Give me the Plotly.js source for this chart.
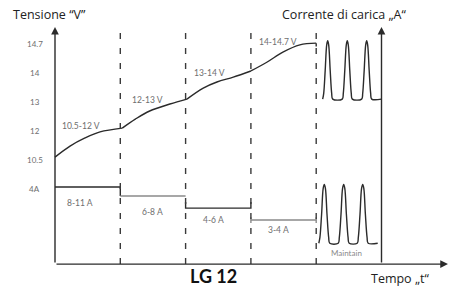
<!DOCTYPE html>
<html><head><meta charset="utf-8">
<script src="https://cdn.plot.ly/plotly-3.0.1.min.js"></script>
<style>html,body{margin:0;padding:0;background:#fff}#c{width:451px;height:289px}</style>
</head><body><div id="c"></div>
<script>
// Phase boundaries (time axis, schematic units)
const phaseBounds = [0, 1, 2, 3, 4, 5];
// Y-axis ticks (schematic levels) and labels
const tickLevels = [-1, 0, 1, 2, 3, 4];
const tickLabels = ['4A', '10.5', '12', '13', '14', '14.7'];

// Voltage curve, one segment per phase
const volt1X = [0, 0.23, 0.46, 0.69, 1.03];
const volt1Y = [0.10, 0.48, 0.76, 0.97, 1.10];
const volt2X = [1.03, 1.23, 1.45, 1.76, 2.02];
const volt2Y = [1.10, 1.41, 1.69, 1.93, 2.10];
const volt3X = [2.02, 2.27, 2.48, 2.73, 3.0];
const volt3Y = [2.10, 2.48, 2.69, 2.86, 3.07];
const volt4X = [3.0, 3.25, 3.49, 3.75, 4.0, 4.0];
const volt4Y = [3.07, 3.38, 3.72, 3.97, 4.03, 3.91];
const voltLabels = ['10.5-12 V', '12-13 V', '13-14 V', '14-14.7 V'];
const voltLabelX = [0.40, 1.41, 2.36, 3.41];
const voltLabelY = [1.17, 2.07, 3.01, 4.08];

// Charging current steps
const cur1X = [0, 1, 1];          const cur1Y = [-0.93, -0.93, -1.24];
const cur2X = [1, 2];             const cur2Y = [-1.24, -1.24];
const cur3X = [2, 2, 3, 3];       const cur3Y = [-1.45, -1.66, -1.66, -1.45];
const cur4X = [3, 3, null, 3, 4, null, 4, 4];
const cur4Y = [-1.97, -2.17, null, -2.07, -2.07, null, -1.97, -2.17];
const curLabels = ['8-11 A', '6-8 A', '4-6 A', '3-4 A'];
const curLabelX = [0.38, 1.49, 2.43, 3.42];
const curLabelY = [-1.48, -1.79, -2.07, -2.41];

// Maintain phase pulses (voltage)
const pulseVX = [4.099, 4.115, 4.138, 4.161, 4.176, 4.191, 4.214, 4.237, 4.253,
                 4.399, 4.415, 4.438, 4.461, 4.476, 4.491, 4.514, 4.537, 4.553,
                 4.696, 4.712, 4.735, 4.758, 4.773, 4.788, 4.811, 4.834, 4.850, 5.0];
const pulseVY = [2.10, 2.30, 3.10, 3.97, 4.11, 3.97, 3.10, 2.30, 2.10,
                 2.10, 2.30, 3.10, 3.97, 4.11, 3.97, 3.10, 2.30, 2.10,
                 2.10, 2.30, 3.10, 3.97, 4.11, 3.97, 3.10, 2.30, 2.10, 2.10];
// Maintain phase pulses (current)
const pulseIX = [4.040, 4.057, 4.083, 4.107, 4.124, 4.141, 4.165, 4.191, 4.208,
                 4.337, 4.354, 4.380, 4.404, 4.421, 4.438, 4.462, 4.488, 4.505,
                 4.628, 4.645, 4.671, 4.695, 4.712, 4.729, 4.753, 4.779, 4.796, 4.942];
const pulseIY = [-2.87, -2.67, -1.86, -0.98, -0.84, -0.98, -1.86, -2.67, -2.87,
                 -2.87, -2.67, -1.86, -0.98, -0.84, -0.98, -1.86, -2.67, -2.87,
                 -2.87, -2.67, -1.86, -0.98, -0.84, -0.98, -1.86, -2.67, -2.87, -2.87];

const axisBottom = -3.59, axisTop = 4.59, dashTop = 4.69, xTip = 6.018;
const dark = '#2b2b2b', gray = '#8a8a8a', labelCol = '#6e6e6e';

const line = (x, y, color, shape) => ({x, y, type: 'scatter', mode: 'lines',
  line: {color, width: 1.4, shape: shape || 'linear', smoothing: 1}, hoverinfo: 'skip'});

const data = [
  line(volt1X, volt1Y, dark, 'spline'),
  line(volt2X, volt2Y, dark, 'spline'),
  line(volt3X, volt3Y, dark, 'spline'),
  line(volt4X.slice(0, 5), volt4Y.slice(0, 5), dark, 'spline'),
  line(volt4X.slice(4), volt4Y.slice(4), dark),
  line(cur1X, cur1Y, dark), line(cur2X, cur2Y, gray),
  line(cur3X, cur3Y, dark), line(cur4X, cur4Y, gray),
  line(pulseVX, pulseVY, dark, 'spline'),
  line(pulseIX, pulseIY, dark, 'spline')
];

const shapes = phaseBounds.slice(1, 5).map(p => ({type: 'line', xref: 'x', yref: 'y',
  x0: p, x1: p, y0: axisBottom, y1: dashTop, line: {color: '#3a3a3a', width: 1.4, dash: '6px,9px'}}));

const ann = [];
const arrow = (x, y, ax, ay) => ({x, y, ax, ay, xref: 'x', yref: 'y', axref: 'x', ayref: 'y',
  text: '', showarrow: true, arrowhead: 2, arrowsize: 1.1, arrowwidth: 1.4, arrowcolor: dark});
ann.push(arrow(0, axisTop, 0, axisBottom));
ann.push(arrow(phaseBounds[5], axisTop, phaseBounds[5], axisBottom));
ann.push(arrow(xTip, axisBottom, 0, axisBottom));

const txt = (text, x, y, size, color, extra) => Object.assign({text, x, y, xref: 'x', yref: 'y',
  showarrow: false, font: {family: 'Lato, sans-serif', size, color}}, extra || {});
tickLevels.forEach((v, i) => ann.push(txt(tickLabels[i], -0.31, v, 8, labelCol)));
voltLabels.forEach((t, i) => ann.push(txt(t, voltLabelX[i], voltLabelY[i], 8.5, labelCol)));
curLabels.forEach((t, i) => ann.push(txt(t, curLabelX[i], curLabelY[i], 8.5, labelCol)));
ann.push(txt('Maintain', 4.46, -3.21, 8, '#8a8a8a'));
const titleFont = s => ({font: {family: 'Open Sans, sans-serif', size: s, color: '#222'}});
ann.push(txt('Tensione “V”', -0.077, 5.0, 12.5, '#222', titleFont(12.5)));
ann.push(txt('Corrente di carica „A“', 4.426, 5.0, 12.5, '#222', titleFont(12.5)));
ann.push(txt('Tempo „t“', 5.283, -4.10, 12.5, '#222', titleFont(12.5)));
ann.push(txt('<b>LG 12</b>', 2.42, -4.43, 18, '#111',
  {yanchor: 'bottom', borderpad: 0, font: {family: 'Lato, sans-serif', size: 18, color: '#111', weight: 900}}));

const layout = {
  width: 451, height: 289, margin: {l: 0, r: 0, t: 0, b: 0},
  paper_bgcolor: '#fff', plot_bgcolor: '#fff', showlegend: false,
  xaxis: {range: [-0.8423, 6.0643], visible: false, fixedrange: true},
  yaxis: {range: [-4.448, 5.517], visible: false, fixedrange: true},
  shapes, annotations: ann
};
Plotly.newPlot('c', data, layout, {staticPlot: true, displayModeBar: false});
</script></body></html>
